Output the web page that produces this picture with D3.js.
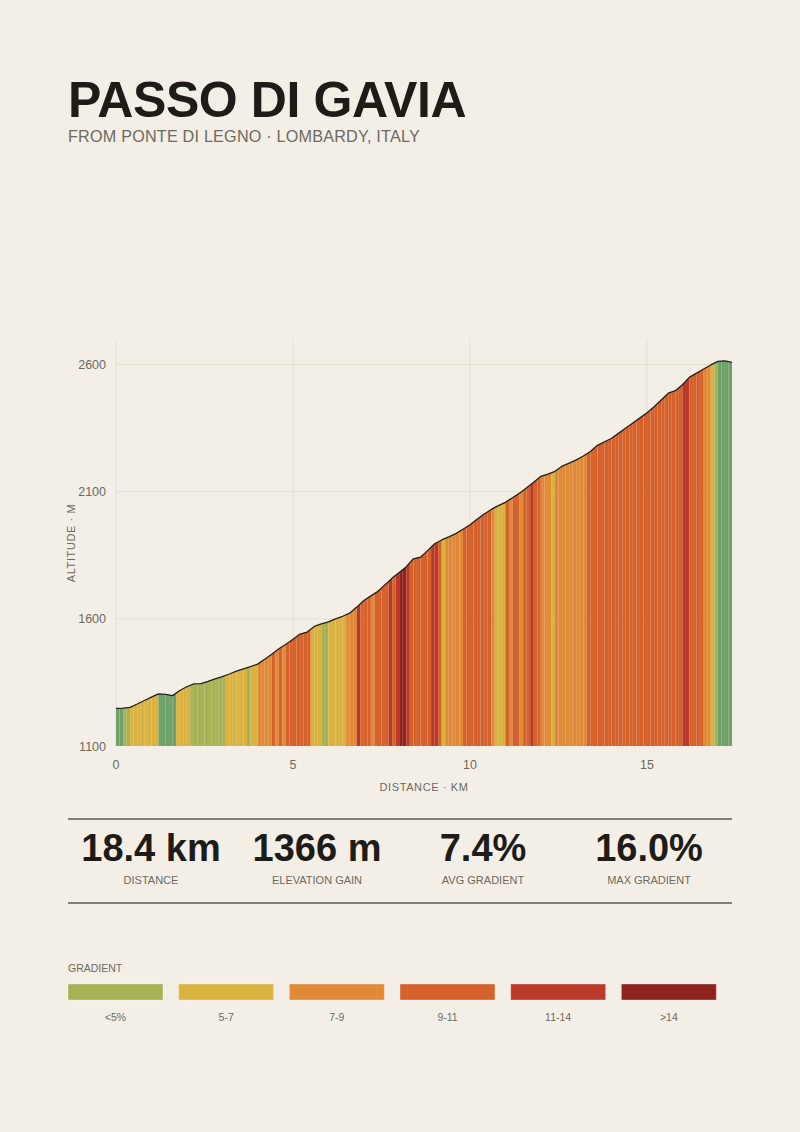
<!DOCTYPE html>
<html>
<head>
<meta charset="utf-8">
<script src="https://cdn.jsdelivr.net/npm/d3@7"></script>
<style>
  html, body { margin: 0; padding: 0; background: #f3efe7; }
  svg { display: block; font-family: 'Liberation Sans', Arial, sans-serif; }
</style>
</head>
<body>
<div id="viz"></div>
<script>
/* global d3 */
(function gaviaProfile() {
  const width = 800;
  const height = 1132;

  // altitude (m) every 0.2 km
  const elevStep = 0.2;
  const elevation = [
    1248, 1249, 1252, 1265, 1279, 1292, 1305, 1303, 1298, 1318,
    1333, 1344, 1345, 1354, 1364, 1373, 1383, 1394, 1403, 1412,
    1422, 1441, 1461, 1482, 1500, 1520, 1540, 1548, 1570, 1580,
    1588, 1600, 1610, 1622, 1646, 1672, 1690, 1708, 1734, 1760,
    1782, 1805, 1836, 1842, 1868, 1895, 1910, 1922, 1935, 1952,
    1970, 1991, 2012, 2030, 2045, 2058, 2076, 2094, 2115, 2137,
    2160, 2169, 2180, 2200, 2212, 2225, 2240, 2258, 2282, 2296,
    2310, 2330, 2350, 2370, 2390, 2410, 2434, 2460, 2487, 2497,
    2520, 2550, 2566, 2582, 2598, 2612, 2614, 2608,
  ];

  // gradient class of each 0.1 km slice (0 = flat/down, 1 = <5 ... 6 = >14)
  const segStep = 0.1;
  const segmentClass = [
    0, 0, 1, 1, 2, 2, 2, 2, 2, 2,
    2, 2, 0, 0, 0, 0, 0, 2, 2, 2,
    2, 1, 1, 1, 1, 1, 1, 1, 1, 1,
    1, 2, 2, 2, 2, 2, 2, 1, 2, 2,
    3, 3, 3, 3, 4, 3, 4, 3, 4, 4,
    4, 4, 4, 4, 4, 2, 2, 2, 1, 1,
    2, 2, 2, 2, 2, 3, 3, 3, 5, 4,
    4, 4, 3, 4, 4, 4, 4, 5, 4, 5,
    6, 6, 5, 4, 4, 4, 4, 4, 4, 5,
    5, 4, 2, 3, 3, 3, 3, 3, 4, 4,
    4, 4, 4, 4, 4, 4, 3, 2, 2, 2,
    4, 3, 4, 4, 3, 4, 4, 5, 4, 4,
    3, 3, 3, 2, 3, 3, 3, 3, 3, 3,
    3, 3, 3, 4, 4, 4, 4, 4, 4, 4,
    4, 4, 4, 4, 4, 4, 4, 4, 4, 4,
    4, 4, 4, 4, 4, 4, 4, 4, 4, 4,
    5, 5, 4, 4, 4, 4, 3, 3, 2, 1,
    0, 0, 0, 0,
  ];

  const xTicks = [0, 5, 10, 15];
  const yTicks = [1100, 1600, 2100, 2600];

  const stats = [
    { value: '18.4 km', label: 'DISTANCE' },
    { value: '1366 m', label: 'ELEVATION GAIN' },
    { value: '7.4%', label: 'AVG GRADIENT' },
    { value: '16.0%', label: 'MAX GRADIENT' },
  ];

  const legendLabels = ['<5%', '5-7', '7-9', '9-11', '11-14', '>14'];

  const classColors = ['#6fa26a', '#a9b155', '#d9b23f', '#e08a37', '#d5622d', '#b93a28', '#8e2320'];
  const inkColor = '#1e1c18';
  const greyColor = '#6d6a5f';
  const gridColor = '#e4dfd0';

  const points = elevation.map((e, i) => ({ km: +(i * elevStep).toFixed(2), elev: e }));
  const maxKm = points[points.length - 1].km;

  const x = d3.scaleLinear().domain([0, maxKm]).range([116, 732]);
  const y = d3.scaleLinear().domain([1100, 2700]).range([746, 339]);

  const svg = d3.select('#viz').append('svg')
    .attr('width', width)
    .attr('height', height);

  svg.append('rect')
    .attr('width', width)
    .attr('height', height)
    .attr('fill', '#f3efe7');

  // Title
  svg.append('text')
    .attr('x', 68)
    .attr('y', 117)
    .attr('font-size', 50)
    .attr('font-weight', 'bold')
    .attr('letter-spacing', -0.4)
    .attr('fill', inkColor)
    .text('PASSO DI GAVIA');

  svg.append('text')
    .attr('x', 68)
    .attr('y', 142)
    .attr('font-size', 16.2)
    .attr('letter-spacing', 0.2)
    .attr('fill', greyColor)
    .text('FROM PONTE DI LEGNO · LOMBARDY, ITALY');

  // Grid
  const grid = svg.append('g').attr('class', 'grid');
  grid.selectAll('line.v')
    .data(xTicks)
    .enter()
    .append('line')
    .attr('class', 'v')
    .attr('x1', d => x(d))
    .attr('x2', d => x(d))
    .attr('y1', y(2700))
    .attr('y2', y(1100))
    .attr('stroke', gridColor)
    .attr('stroke-width', 1);

  grid.selectAll('line.h')
    .data(yTicks.slice(1))
    .enter()
    .append('line')
    .attr('class', 'h')
    .attr('x1', x(0))
    .attr('x2', x(maxKm))
    .attr('y1', d => y(d))
    .attr('y2', d => y(d))
    .attr('stroke', gridColor)
    .attr('stroke-width', 1);

  // Profile
  const area = d3.area()
    .x(d => x(d.km))
    .y0(y(1100))
    .y1(d => y(d.elev));

  const line = d3.line()
    .x(d => x(d.km))
    .y(d => y(d.elev));

  svg.append('clipPath')
    .attr('id', 'profile-clip')
    .append('path')
    .datum(points)
    .attr('d', area);

  svg.append('g')
    .attr('clip-path', 'url(#profile-clip)')
    .selectAll('rect')
    .data(segmentClass)
    .enter()
    .append('rect')
    .attr('x', (d, i) => x(i * segStep))
    .attr('y', y(2700))
    .attr('width', (d, i) => x((i + 1) * segStep) - x(i * segStep))
    .attr('height', y(1100) - y(2700))
    .attr('fill', d => classColors[d]);

  svg.append('path')
    .datum(points)
    .attr('fill', 'none')
    .attr('stroke', '#23211d')
    .attr('stroke-width', 1.3)
    .attr('stroke-linejoin', 'round')
    .attr('d', line);

  // Axes labels
  svg.append('g')
    .selectAll('text')
    .data(yTicks)
    .enter()
    .append('text')
    .attr('x', 106)
    .attr('y', d => y(d) + 4.5)
    .attr('text-anchor', 'end')
    .attr('font-size', 12.5)
    .attr('fill', greyColor)
    .text(d => d);

  svg.append('g')
    .selectAll('text')
    .data(xTicks)
    .enter()
    .append('text')
    .attr('x', d => x(d))
    .attr('y', 769)
    .attr('text-anchor', 'middle')
    .attr('font-size', 12.5)
    .attr('fill', greyColor)
    .text(d => d);

  svg.append('text')
    .attr('x', (x(0) + x(maxKm)) / 2)
    .attr('y', 791)
    .attr('text-anchor', 'middle')
    .attr('font-size', 11)
    .attr('letter-spacing', 0.6)
    .attr('fill', greyColor)
    .text('DISTANCE · KM');

  svg.append('text')
    .attr('transform', 'translate(75, 543) rotate(-90)')
    .attr('text-anchor', 'middle')
    .attr('font-size', 11)
    .attr('letter-spacing', 0.6)
    .attr('fill', greyColor)
    .text('ALTITUDE · M');

  // Stats
  const colW = (732 - 68) / stats.length;
  [819, 903].forEach((yy) => {
    svg.append('line')
      .attr('x1', 68)
      .attr('x2', 732)
      .attr('y1', yy)
      .attr('y2', yy)
      .attr('stroke', '#5e594d')
      .attr('stroke-width', 1.5);
  });

  const statG = svg.append('g').selectAll('g')
    .data(stats)
    .enter()
    .append('g')
    .attr('transform', (d, i) => `translate(${68 + colW * (i + 0.5)}, 0)`);

  statG.append('text')
    .attr('y', 861)
    .attr('text-anchor', 'middle')
    .attr('font-size', 38)
    .attr('font-weight', 'bold')
    .attr('fill', inkColor)
    .text(d => d.value);

  statG.append('text')
    .attr('y', 884)
    .attr('text-anchor', 'middle')
    .attr('font-size', 11)
    .attr('fill', greyColor)
    .text(d => d.label);

  // Legend
  svg.append('text')
    .attr('x', 68)
    .attr('y', 972)
    .attr('font-size', 10.5)
    .attr('fill', greyColor)
    .text('GRADIENT');

  const legStep = (732 - 68) / legendLabels.length;
  const legend = svg.append('g').selectAll('g')
    .data(legendLabels)
    .enter()
    .append('g')
    .attr('transform', (d, i) => `translate(${68 + legStep * i}, 0)`);

  legend.append('rect')
    .attr('x', 0)
    .attr('y', 984)
    .attr('width', 95)
    .attr('height', 16)
    .attr('fill', (d, i) => classColors[i + 1])
    .attr('stroke', 'rgba(255,255,255,0.35)')
    .attr('stroke-width', 1);

  legend.append('text')
    .attr('x', 95 / 2)
    .attr('y', 1021)
    .attr('text-anchor', 'middle')
    .attr('font-size', 10.5)
    .attr('fill', greyColor)
    .text(d => d);
}());
</script>
</body>
</html>
